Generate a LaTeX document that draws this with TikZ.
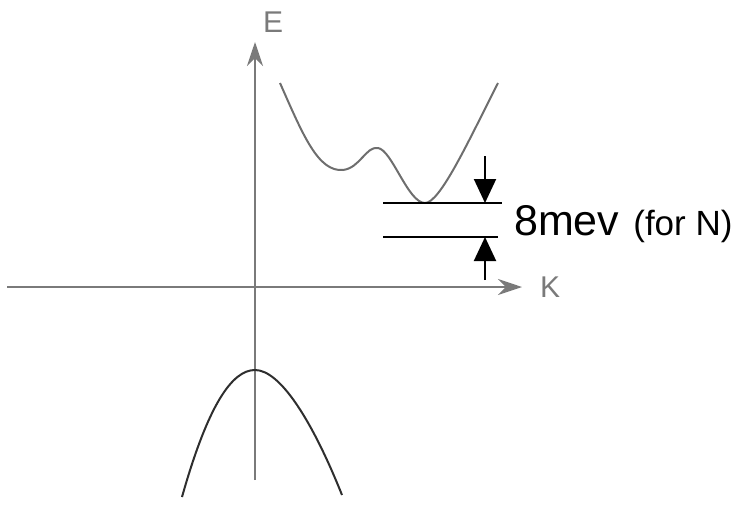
\documentclass[tikz,border=0pt]{standalone}
\usepackage{fontspec}
\setmainfont{Liberation Sans}
\usetikzlibrary{arrows.meta,positioning}
\definecolor{axisgray}{HTML}{7A7A7A}
\definecolor{bandgray}{HTML}{6E6E6E}
\definecolor{valencegray}{HTML}{2E2E2E}

\begin{document}
\begin{tikzpicture}[
        x=1pt, y=-1pt,
        % Estilos
        axis/.style={draw=axisgray, line width=2pt, -{Stealth[length=24pt, width=16pt]}},
        band/.style={draw=bandgray, line width=2pt},
        valence/.style={draw=valencegray, line width=2pt},
        level/.style={draw=black, line width=2pt},
        gaparrow/.style={draw=black, line width=2pt, -{Triangle[length=24pt, width=22pt]}},
        axislabel/.style={text=axisgray, font=\fontsize{30}{34}\selectfont, inner sep=0pt}
    ]
        \useasboundingbox (0,0) rectangle (737,509);

        % Eixos
        \coordinate (origin) at (255,287);
        \coordinate (kstart) at (7,287);
        \coordinate (kend) at (522,287);
        \coordinate (estart) at (255,480);
        \coordinate (eend) at (255,42);
        \draw [axis] (kstart) -- (kend);
        \draw [axis] (estart) -- (eend);
        \node (elabel) [axislabel, anchor=west] at (263,22) {E};
        \node (klabel) [axislabel, anchor=west] at (540,287) {K};

        % Banda de conducao
        \draw [band] (280,83) .. controls (303,135) and (318,172) .. (343,170)
            .. controls (360,168) and (366,146) .. (378,148)
            .. controls (392,150) and (408,203) .. (425,203)
            .. controls (440,203) and (468,142) .. (498,83);

        % Banda de valencia
        \draw [valence] (182,497) .. controls (208,405) and (232,370) .. (255,370)
            .. controls (280,370) and (312,420) .. (342,495);

        % Niveis e separacao
        \coordinate (upleft) at (383,203);
        \coordinate (upright) at (502,203);
        \coordinate (lowleft) at (383,237);
        \coordinate (lowright) at (498,237);
        \draw [level] (upleft) -- (upright);
        \draw [level] (lowleft) -- (lowright);

        \coordinate (toptail) at (485,156);
        \coordinate (toptip) at (485,203);
        \coordinate (bottail) at (485,280);
        \coordinate (bottip) at (485,237);
        \draw [gaparrow] (toptail) -- (toptip);
        \draw [gaparrow] (bottail) -- (bottip);

        \node (gap) [anchor=base west, inner sep=0pt, font=\fontsize{43}{48}\selectfont] at (514,235)
            {8mev\hspace{14pt}{\fontsize{35}{40}\selectfont (for N)}};

    \end{tikzpicture}
\end{document}
